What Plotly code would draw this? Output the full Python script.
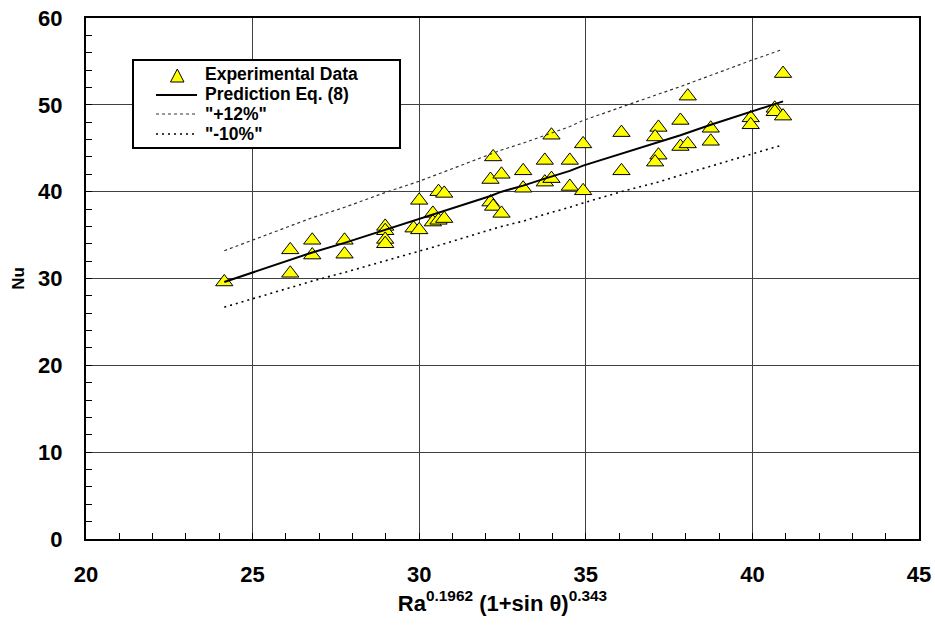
import plotly.graph_objects as go

exp_x = [24.15, 26.13, 26.13, 26.79, 26.79, 27.76, 27.76, 28.98, 28.98, 28.98, 28.98,
         30.0, 29.83, 30.0, 30.41, 30.41, 30.58, 30.75, 30.58, 30.75,
         32.22, 32.14, 32.47, 32.14, 32.22, 32.47, 33.12, 33.12,
         33.97, 33.77, 33.77, 33.97, 34.52, 34.52, 34.92, 34.92, 36.07, 36.07,
         37.18, 37.08, 37.18, 37.08, 37.84, 37.84, 38.06, 38.06, 38.75, 38.75,
         39.95, 39.95, 40.67, 40.67, 40.92, 40.92]
exp_y = [29.6, 33.3, 30.6, 34.4, 32.7, 34.4, 32.8, 36.0, 35.5, 34.5, 34.0,
         39.0, 35.8, 35.6, 37.5, 36.5, 40.0, 39.8, 36.7, 36.9,
         44.0, 41.4, 42.0, 38.8, 38.3, 37.5, 42.4, 40.4,
         46.5, 43.6, 41.1, 41.5, 43.6, 40.6, 45.5, 40.1, 46.8, 42.4,
         47.4, 46.3, 44.2, 43.4, 48.2, 45.2, 45.5, 51.0, 47.3, 45.8,
         48.5, 47.7, 49.6, 49.2, 53.6, 48.7]

# Prediction Eq. (8) and +12% / -10% bands
pred_x = [24.15, 26.13, 26.79, 27.76, 28.98, 30.0, 30.41, 30.75, 32.14, 32.47,
          33.12, 33.77, 34.52, 34.92, 36.07, 37.08, 37.84, 38.75, 39.95, 40.92]
pred_y = [29.6, 32.2, 33.0, 34.1, 35.6, 36.8, 37.3, 37.8, 39.5, 40.0,
          40.7, 41.5, 42.4, 43.0, 44.4, 45.6, 46.5, 47.7, 49.2, 50.4]
upper_y = [33.2, 36.0, 37.0, 38.2, 39.9, 41.2, 41.8, 42.3, 44.3, 44.8,
           45.6, 46.5, 47.5, 48.2, 49.7, 51.1, 52.1, 53.4, 55.1, 56.4]
lower_y = [26.7, 29.0, 29.7, 30.7, 32.0, 33.1, 33.6, 34.0, 35.6, 36.0,
           36.6, 37.4, 38.2, 38.7, 40.0, 41.0, 41.9, 42.9, 44.3, 45.4]

legend_labels = ["Experimental Data", "Prediction Eq. (8)", "\"+12%\"", "\"-10%\""]

x_ticks = [20, 25, 30, 35, 40, 45]
y_ticks = [0, 10, 20, 30, 40, 50, 60]

FONT = "Liberation Sans, Arial, sans-serif"

# plot-area geometry in pixels (for converting legend placement to paper units)
W, H = 935, 630
L, R, T, B = 86, 16, 18, 91
PW, PH = W - L - R, H - T - B


def px(x):
    return (x - L) / PW


def py(y):
    return (H - B - y) / PH


marker_style = dict(symbol="triangle-up", size=15, color="#FFFF00",
                    line=dict(color="black", width=1))
pred_style = dict(color="black", width=2)
up_style = dict(color="#333333", width=1.2, dash="3px,3px")
low_style = dict(color="black", width=1.6, dash="2px,4px")

fig = go.Figure()
fig.add_trace(go.Scatter(x=exp_x, y=exp_y, mode="markers", name=legend_labels[0],
                         marker=marker_style))
fig.add_trace(go.Scatter(x=pred_x, y=pred_y, mode="lines", name=legend_labels[1],
                         line=pred_style))
fig.add_trace(go.Scatter(x=pred_x, y=upper_y, mode="lines", name=legend_labels[2],
                         line=up_style))
fig.add_trace(go.Scatter(x=pred_x, y=lower_y, mode="lines", name=legend_labels[3],
                         line=low_style))

axis_common = dict(
    showline=True, linecolor="black", linewidth=2, mirror=True,
    showgrid=True, gridcolor="#404040", gridwidth=1,
    ticks="inside", ticklen=6, tickcolor="black",
    zeroline=False, automargin=False,
    tickfont=dict(family=FONT, size=22, color="black"),
)

fig.update_xaxes(
    range=[20, 45], tickvals=x_ticks, ticktext=[f"<b>{v}</b>" for v in x_ticks],
    minor=dict(dtick=1, ticks="inside", ticklen=6, tickcolor="black", showgrid=False),
    ticklabelstandoff=15,
    title=dict(text="<b>Ra<sup>0.1962</sup> (1+sin θ)<sup>0.343</sup></b>",
               font=dict(family=FONT, size=22, color="black"),
               standoff=8),
    **axis_common)
fig.update_yaxes(
    range=[0, 60], tickvals=y_ticks, ticktext=[f"<b>{v}</b>" for v in y_ticks],
    minor=dict(dtick=2, ticks="inside", ticklen=6, tickcolor="black", showgrid=False),
    ticklabelstandoff=17,
    title=dict(text="<b>Nu</b>", font=dict(family=FONT, size=17, color="black"),
               standoff=9),
    **axis_common)

# --- legend drawn as a box with real text entries ---
shapes = [
    dict(type="rect", xref="paper", yref="paper",
         x0=px(133), x1=px(400), y0=py(148), y1=py(60),
         fillcolor="white", line=dict(color="black", width=2), layer="above"),
    # triangle symbol
    dict(type="path", xref="paper", yref="paper",
         path=f"M {px(170.5)} {py(82)} L {px(184)} {py(82)} L {px(177.3)} {py(69)} Z",
         fillcolor="#FFFF00", line=dict(color="black", width=1), layer="above"),
    dict(type="line", xref="paper", yref="paper",
         x0=px(156), x1=px(197), y0=py(95), y1=py(95),
         line=dict(color="black", width=2), layer="above"),
    dict(type="line", xref="paper", yref="paper",
         x0=px(156), x1=px(197), y0=py(114), y1=py(114),
         line=dict(color="#333333", width=1.2, dash="3px,3px"), layer="above"),
    dict(type="line", xref="paper", yref="paper",
         x0=px(156), x1=px(197), y0=py(134), y1=py(134),
         line=dict(color="black", width=1.6, dash="2px,4px"), layer="above"),
]
row_y = [74, 94, 114, 134]
annotations = [
    dict(xref="paper", yref="paper", x=px(203), y=py(yy), xanchor="left",
         yanchor="middle", showarrow=False, text=f"<b>{lab}</b>",
         font=dict(family=FONT, size=17.5, color="black"))
    for lab, yy in zip(legend_labels, row_y)
]

fig.update_layout(
    width=W, height=H,
    margin=dict(l=L, r=R, t=T, b=B),
    paper_bgcolor="white", plot_bgcolor="white",
    font=dict(family=FONT, color="black"),
    showlegend=False,
    shapes=shapes,
    annotations=annotations,
)

fig.write_html("out.html")
